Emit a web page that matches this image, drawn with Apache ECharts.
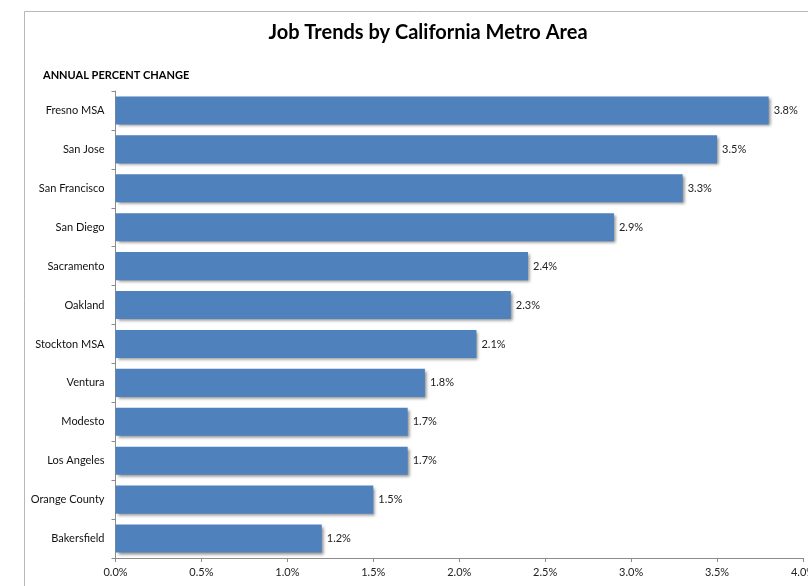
<!DOCTYPE html>
<html>
<head>
<meta charset="utf-8">
<style>
  html, body { margin: 0; padding: 0; background: #fff; }
  #chart { width: 808px; height: 586px; }
</style>
<script src="https://cdn.jsdelivr.net/npm/echarts@6/dist/echarts.min.js"></script>
</head>
<body>
<div id="chart"></div>
<script>
// Metro areas, top to bottom
const metros = [
  'Fresno MSA', 'San Jose', 'San Francisco', 'San Diego', 'Sacramento', 'Oakland',
  'Stockton MSA', 'Ventura', 'Modesto', 'Los Angeles', 'Orange County', 'Bakersfield'
];
// Annual job growth, percent
const pctChange = [3.8, 3.5, 3.3, 2.9, 2.4, 2.3, 2.1, 1.8, 1.7, 1.7, 1.5, 1.2];
// Value axis range and step, percent
const axisMin = 0;
const axisMax = 4;
const axisStep = 0.5;

const FONT = 'Lato, "Open Sans", sans-serif';
const chart = echarts.init(document.getElementById('chart'));

chart.setOption({
  animation: false,
  backgroundColor: '#ffffff',
  graphic: [
    {
      type: 'rect',
      shape: { x: 24.5, y: 11.5, width: 900, height: 700 },
      style: { fill: 'none', stroke: '#b8b8b8', lineWidth: 1 },
      z: -1
    }
  ],
  title: [
    {
      text: 'Job Trends by California Metro Area',
      left: 428, top: 23, textAlign: 'center', padding: 0,
      textStyle: { fontFamily: FONT, fontSize: 20, fontWeight: 'bold', color: '#000' }
    },
    {
      text: 'ANNUAL PERCENT CHANGE',
      left: 43, top: 70, padding: 0,
      textStyle: { fontFamily: FONT, fontSize: 11, fontWeight: 'bold', color: '#000' }
    }
  ],
  grid: { left: 115.5, right: 5, top: 91, bottom: 28, containLabel: false, outerBoundsMode: 'none' },
  xAxis: {
    type: 'value',
    min: axisMin, max: axisMax, interval: axisStep,
    axisLine: { show: true, lineStyle: { color: '#8c8c8c', width: 1 } },
    axisTick: { show: true, length: 4, lineStyle: { color: '#8c8c8c' } },
    splitLine: { show: false },
    axisLabel: {
      fontFamily: FONT, fontSize: 11, color: '#222', margin: 9,
      formatter: v => v.toFixed(1) + '%'
    }
  },
  yAxis: {
    type: 'category',
    data: metros,
    inverse: true,
    axisLine: { show: true, lineStyle: { color: '#8c8c8c', width: 1 } },
    axisTick: { show: true, length: 4, lineStyle: { color: '#8c8c8c' } },
    axisLabel: { fontFamily: FONT, fontSize: 11, color: '#111', margin: 11 }
  },
  series: [
    {
      type: 'bar',
      data: pctChange,
      barCategoryGap: '28%',
      itemStyle: {
        color: '#4f81bd',
        shadowColor: 'rgba(0,0,0,0.45)',
        shadowBlur: 3,
        shadowOffsetX: 2,
        shadowOffsetY: 2
      },
      label: {
        show: true,
        position: 'right',
        distance: 5,
        fontFamily: FONT, fontSize: 11, color: '#222',
        formatter: p => p.value.toFixed(1) + '%'
      }
    }
  ]
});
</script>
</body>
</html>
